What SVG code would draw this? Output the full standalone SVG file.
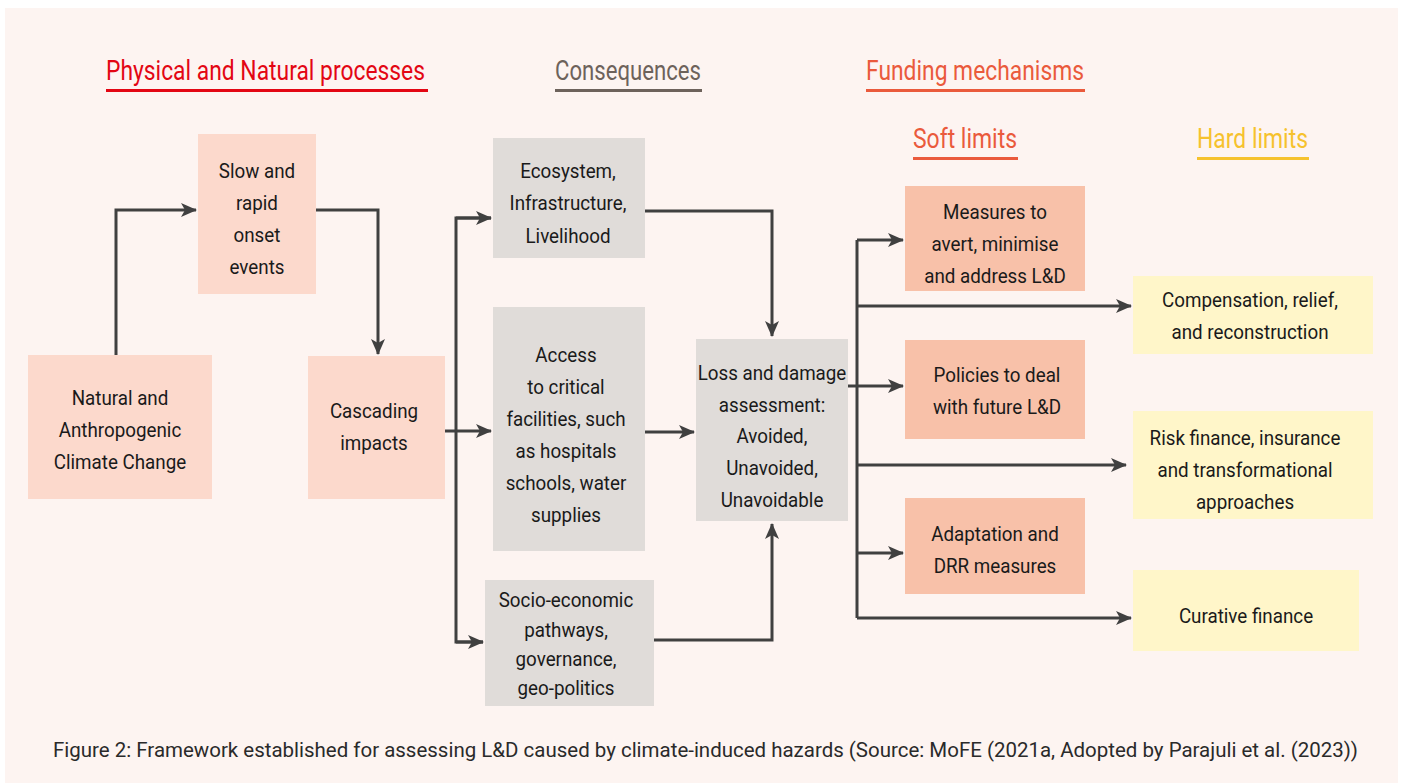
<svg xmlns="http://www.w3.org/2000/svg" width="1402" height="783" viewBox="0 0 1402 783">
<defs>
<marker id="ah" markerUnits="userSpaceOnUse" markerWidth="16" markerHeight="14" viewBox="0 0 16 14" refX="15" refY="7" orient="auto">
<path d="M0,0 L16,7 L0,14 L4,7 Z" fill="#404040"/>
</marker>
<style>
text{font-family:Roboto,"Liberation Sans",sans-serif;}
.t{font-size:21px;fill:#1a1a1a;text-anchor:middle;transform-box:fill-box;transform-origin:center;transform:scaleX(0.895);}
.h{font-size:27px;}
.c{stroke:#404040;stroke-width:3;fill:none;}
.pk{fill:#fcd9cc;}
.gr{fill:#e0dcd9;}
.sf{fill:#f8c1a9;}
.hd{fill:#fff6c9;}
</style>
</defs>
<rect x="0" y="0" width="1402" height="783" fill="#ffffff"/>
<rect x="5" y="8" width="1393" height="775" fill="#fdf4f1"/>

<g id="headers">
<text class="h" x="106" y="80" fill="#e30613" textLength="319" lengthAdjust="spacingAndGlyphs">Physical and Natural processes</text>
<rect x="106" y="89" width="322" height="3" fill="#e30613"/>
<text class="h" x="555" y="80" fill="#6d625b" textLength="146" lengthAdjust="spacingAndGlyphs">Consequences</text>
<rect x="555" y="89" width="147" height="3" fill="#6d625b"/>
<text class="h" x="866" y="80" fill="#ea5a3c" textLength="218" lengthAdjust="spacingAndGlyphs">Funding mechanisms</text>
<rect x="866" y="89" width="219" height="3" fill="#ea5a3c"/>
<text class="h" x="913" y="148" fill="#ea5a3c" textLength="104" lengthAdjust="spacingAndGlyphs">Soft limits</text>
<rect x="913" y="157" width="105" height="3" fill="#ea5a3c"/>
<text class="h" x="1197" y="148" fill="#f6c22d" textLength="111" lengthAdjust="spacingAndGlyphs">Hard limits</text>
<rect x="1197" y="157" width="112" height="3" fill="#f6c22d"/>
</g>

<g id="connectors">
<polyline class="c" points="116,355 116,210 196,210" marker-end="url(#ah)"/>
<polyline class="c" points="316,210 378,210 378,354" marker-end="url(#ah)"/>
<line class="c" x1="445" y1="431" x2="456" y2="431"/>
<polyline class="c" points="491,218 456,218 456,642 483,642"/>
<path class="c" d="M456,218 H491" marker-end="url(#ah)"/>
<path class="c" d="M456,431 H491" marker-end="url(#ah)"/>
<path class="c" d="M456,642 H483" marker-end="url(#ah)"/>
<polyline class="c" points="645,211 772,211 772,336" marker-end="url(#ah)"/>
<path class="c" d="M645,432 H694" marker-end="url(#ah)"/>
<polyline class="c" points="654,640 772,640 772,524" marker-end="url(#ah)"/>
<line class="c" x1="848" y1="386" x2="857" y2="386"/>
<line class="c" x1="857" y1="240" x2="857" y2="618"/>
<path class="c" d="M857,240 H903" marker-end="url(#ah)"/>
<path class="c" d="M857,306 H1131" marker-end="url(#ah)"/>
<path class="c" d="M857,386 H903" marker-end="url(#ah)"/>
<path class="c" d="M857,465 H1126" marker-end="url(#ah)"/>
<path class="c" d="M857,553 H903" marker-end="url(#ah)"/>
<path class="c" d="M857,618 H1131" marker-end="url(#ah)"/>
</g>

<g id="n-natural">
<rect class="pk" x="28" y="355" width="184" height="144"/>
<text class="t" x="120" y="405">Natural and</text>
<text class="t" x="120" y="437">Anthropogenic</text>
<text class="t" x="120" y="469">Climate Change</text>
</g>
<g id="n-slow">
<rect class="pk" x="198" y="134" width="118" height="160"/>
<text class="t" x="257" y="178">Slow and</text>
<text class="t" x="257" y="210">rapid</text>
<text class="t" x="257" y="242">onset</text>
<text class="t" x="257" y="274">events</text>
</g>
<g id="n-cascading">
<rect class="pk" x="308" y="356" width="137" height="143"/>
<text class="t" x="374" y="418">Cascading</text>
<text class="t" x="374" y="450">impacts</text>
</g>
<g id="n-ecosystem">
<rect class="gr" x="493" y="138" width="152" height="120"/>
<text class="t" x="568" y="178">Ecosystem,</text>
<text class="t" x="568" y="210">Infrastructure,</text>
<text class="t" x="568" y="243">Livelihood</text>
</g>
<g id="n-access">
<rect class="gr" x="493" y="307" width="152" height="244"/>
<text class="t" x="566" y="362">Access</text>
<text class="t" x="566" y="394">to critical</text>
<text class="t" x="566" y="426">facilities, such</text>
<text class="t" x="566" y="458">as hospitals</text>
<text class="t" x="566" y="490">schools, water</text>
<text class="t" x="566" y="522">supplies</text>
</g>
<g id="n-socio">
<rect class="gr" x="485" y="580" width="169" height="126"/>
<text class="t" x="566" y="607">Socio-economic</text>
<text class="t" x="566" y="637">pathways,</text>
<text class="t" x="566" y="666">governance,</text>
<text class="t" x="566" y="695">geo-politics</text>
</g>
<g id="n-loss">
<rect class="gr" x="696" y="339" width="152" height="182"/>
<text class="t" x="772" y="380">Loss and damage</text>
<text class="t" x="772" y="412">assessment:</text>
<text class="t" x="772" y="443">Avoided,</text>
<text class="t" x="772" y="475">Unavoided,</text>
<text class="t" x="772" y="507">Unavoidable</text>
</g>
<g id="n-measures">
<rect class="sf" x="905" y="186" width="180" height="105"/>
<text class="t" x="995" y="219">Measures to</text>
<text class="t" x="995" y="251">avert, minimise</text>
<text class="t" x="995" y="283">and address L&amp;D</text>
</g>
<g id="n-policies">
<rect class="sf" x="905" y="340" width="180" height="99"/>
<text class="t" x="997" y="382">Policies to deal</text>
<text class="t" x="997" y="414">with future L&amp;D</text>
</g>
<g id="n-adaptation">
<rect class="sf" x="905" y="498" width="180" height="96"/>
<text class="t" x="995" y="541">Adaptation and</text>
<text class="t" x="995" y="573">DRR measures</text>
</g>
<g id="n-compensation">
<rect class="hd" x="1133" y="276" width="240" height="78"/>
<text class="t" x="1250" y="307">Compensation, relief,</text>
<text class="t" x="1250" y="339">and reconstruction</text>
</g>
<g id="n-risk">
<rect class="hd" x="1133" y="411" width="240" height="108"/>
<text class="t" x="1245" y="445">Risk finance, insurance</text>
<text class="t" x="1245" y="477">and transformational</text>
<text class="t" x="1245" y="509">approaches</text>
</g>
<g id="n-curative">
<rect class="hd" x="1133" y="570" width="226" height="81"/>
<text class="t" x="1246" y="623">Curative finance</text>
</g>

<text x="53" y="757" font-size="20" fill="#2a2a2a" textLength="1305" lengthAdjust="spacingAndGlyphs">Figure 2: Framework established for assessing L&amp;D caused by climate-induced hazards (Source: MoFE (2021a, Adopted by Parajuli et al. (2023))</text>
</svg>
